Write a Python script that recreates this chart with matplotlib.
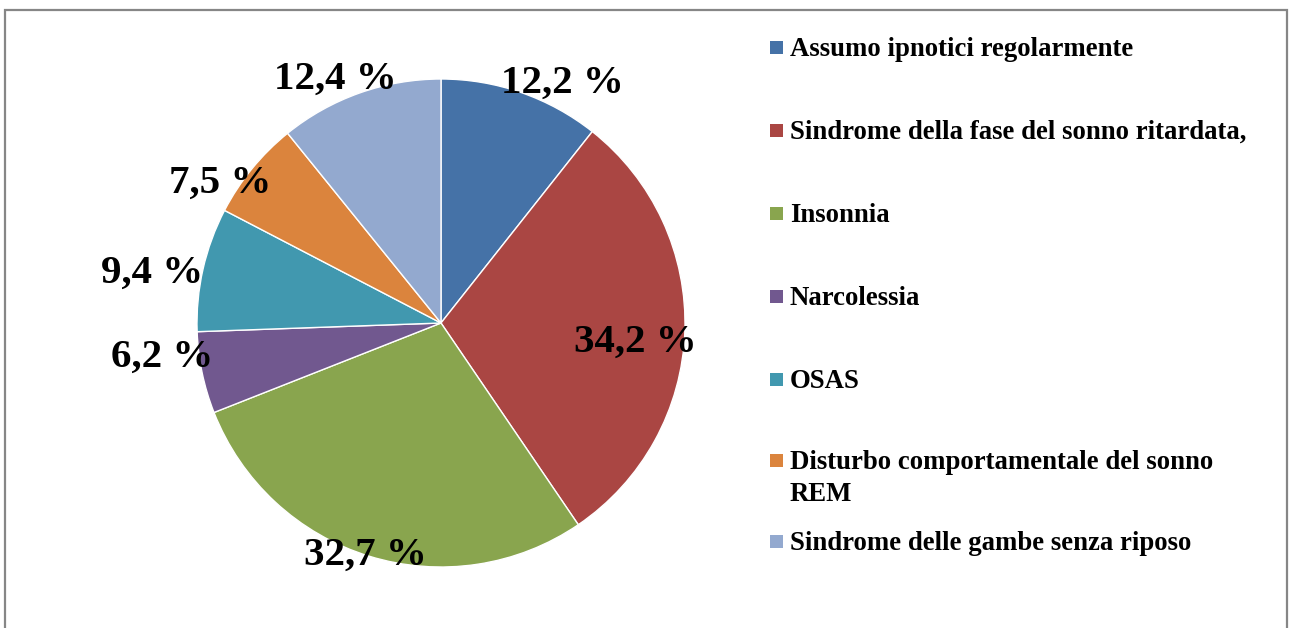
import numpy as np
import matplotlib
matplotlib.use("Agg")
import matplotlib.pyplot as plt
from matplotlib.patches import Rectangle

categories = [
    "Assumo ipnotici regolarmente",
    "Sindrome della fase del sonno ritardata,",
    "Insonnia",
    "Narcolessia",
    "OSAS",
    "Disturbo comportamentale del sonno\nREM",
    "Sindrome delle gambe senza riposo",
]
values = [12.2, 34.2, 32.7, 6.2, 9.4, 7.5, 12.4]
value_labels = ["12,2 %", "34,2 %", "32,7 %", "6,2 %", "9,4 %", "7,5 %", "12,4 %"]

colors = ["#4572A7", "#AA4643", "#89A54E", "#71588F", "#4198AF", "#DB843D", "#93A9CF"]

# label placement (layout): radial distance and angular tweak (deg, clockwise)
label_dist = [1.10, 0.80, 1.00, 1.15, 1.20, 1.07, 1.09]
label_dtheta = [7.7, 3.6, 0.8, 4.8, -2.9, -6.9, -3.9]

W, H = 1289, 628
DPI = 100
fig = plt.figure(figsize=(W / DPI, H / DPI), dpi=DPI)
fig.patch.set_facecolor("white")

cx, cy, r = 441, 323, 244
ax = fig.add_axes([(cx - r) / W, (H - cy - r) / H, 2 * r / W, 2 * r / H])
wedges, _ = ax.pie(values, colors=colors, startangle=90, counterclock=False,
                   radius=1.0, wedgeprops=dict(edgecolor="white", linewidth=1.0))
ax.set_xlim(-1, 1)
ax.set_ylim(-1, 1)
ax.set_aspect("equal")
ax.axis("off")

font = "Liberation Serif"
for w, lab, d, dt in zip(wedges, value_labels, label_dist, label_dtheta):
    mid = 0.5 * (w.theta1 + w.theta2) - dt
    ang = np.deg2rad(mid)
    ax.text(d * np.cos(ang), d * np.sin(ang), lab, ha="center", va="center",
            fontsize=29.5, fontweight="bold", family=font, color="black")

# legend (manual, to mimic the Excel layout)
leg_y = [47.7, 130.7, 213.7, 296.7, 379.5, 460.5, 541.7]
sq = 13
line_step = 32
for lab, col, yc in zip(categories, colors, leg_y):
    fig.patches.append(Rectangle((770 / W, (H - yc - sq / 2) / H), sq / W, sq / H,
                                 transform=fig.transFigure, facecolor=col,
                                 edgecolor="none"))
    for k, line in enumerate(lab.split("\n")):
        fig.text(790 / W, (H - yc - 8.3 - k * line_step) / H, line,
                 ha="left", va="baseline", fontsize=19.3, fontweight="bold",
                 family=font, color="black")

# outer frame
fig.patches.append(Rectangle((5 / W, -0.1), (1287 - 5) / W, 1 - 10 / H + 0.1,
                             transform=fig.transFigure, facecolor="none",
                             edgecolor="#868686", linewidth=1.6, clip_on=False))

fig.savefig("out.png", dpi=DPI)
